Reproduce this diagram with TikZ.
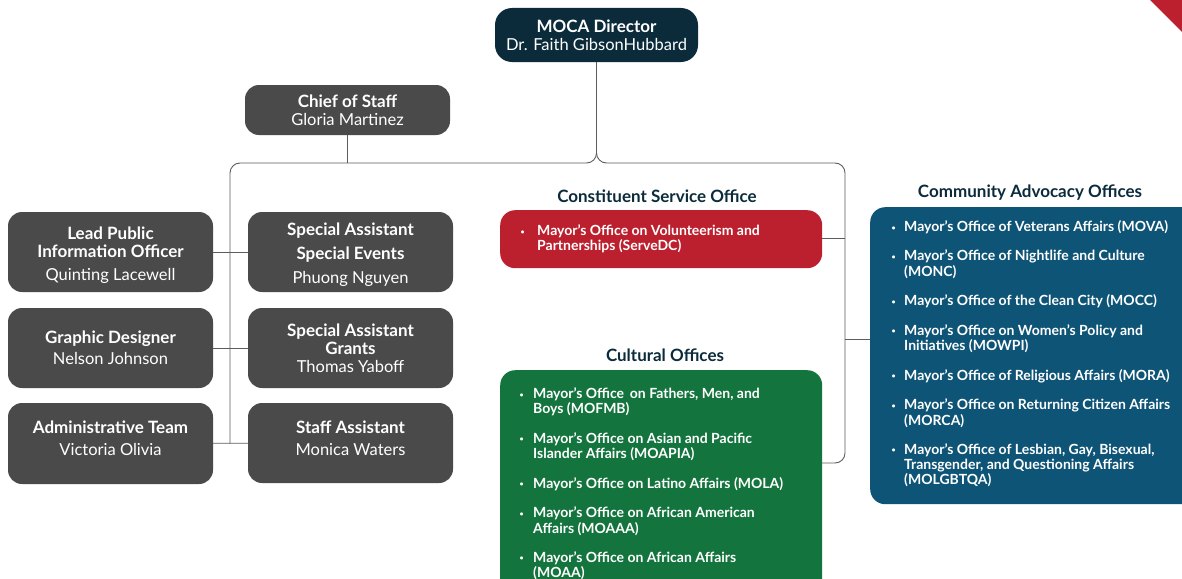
\documentclass[tikz,border=0pt]{standalone}
\usepackage{fontspec}
\setmainfont{Lato}
\usepackage{xcolor}
\definecolor{navy}{HTML}{0B2B3B}
\definecolor{slate}{HTML}{4A4A4A}
\definecolor{servred}{HTML}{BC1F2E}
\definecolor{cultgreen}{HTML}{13753D}
\definecolor{advblue}{HTML}{0E5476}
\definecolor{wirec}{HTML}{5C5C5C}
\newcommand{\bul}{\raisebox{1.5pt}{\scriptsize\textbullet}}
\newcommand{\rolefont}{\bfseries\fontsize{17}{18}\selectfont}
\newenvironment{officelist}[1]{\begin{tabular}{@{}p{#1}@{}l@{}}}{\end{tabular}}

\begin{document}
\begin{tikzpicture}[x=1pt,y=-1pt,
  staff/.style={fill=slate,text=white,rounded corners=14pt,minimum width=205pt,
    minimum height=80pt,align=center,inner sep=0pt,font=\fontsize{16.5}{18}\selectfont},
  head/.style={staff,fill=navy,rounded corners=17pt,minimum width=203pt,minimum height=54pt},
  panel/.style={anchor=north west,rounded corners=15pt,inner sep=0pt},
  listing/.style={anchor=north west,inner sep=0pt,text=white,font=\bfseries\fontsize{14}{15}\selectfont},
  grouptitle/.style={text=navy,font=\bfseries\fontsize{17}{18}\selectfont},
  wire/.style={draw=wirec,line width=0.9pt}]
  \useasboundingbox (0,0) rectangle (1182,578);
  \clip (0,0) rectangle (1182,578);
  \fill[servred] (1150,0) -- (1190,0) -- (1190,40) -- cycle;

  \node[head] (director) at (596.5,35) {{\rolefont MOCA Director}\\Dr. Faith GibsonHubbard};
  \node[staff,minimum height=50pt] (chief) at (347.5,110) {{\rolefont Chief of Staff}\\Gloria Martinez};

  \node[staff] (lpio) at (110.5,252) {\mbox{}\\[2pt]{\rolefont Lead Public}\\{\rolefont Information Officer}\\[5pt]Quinting Lacewell};
  \node[staff] (events) at (350.5,252) {\mbox{}\\[0pt]{\rolefont Special Assistant}\\[6pt]{\rolefont Special Events}\\[6pt]Phuong Nguyen};
  \node[staff] (designer) at (110.5,348) {{\rolefont Graphic Designer}\\[3pt]Nelson Johnson};
  \node[staff] (grants) at (350.5,348) {{\rolefont Special Assistant}\\{\rolefont Grants}\\Thomas Yaboff};
  \node[staff,minimum height=81pt] (admin) at (110.5,443.5) {{\rolefont Administrative Team}\\[4pt]Victoria Olivia\\[-8pt]\mbox{}};
  \node[staff] (assistant) at (350.5,443) {{\rolefont Staff Assistant}\\[4pt]Monica Waters\\[-8pt]\mbox{}};

  \node[grouptitle] (servetitle) at (657,196) {Constituent Service Office};
  \node[panel,fill=servred,minimum width=322pt,minimum height=58pt] (serve) at (500,210) {};
  \node[listing] (servelist) at (520.5,224.5) {\begin{officelist}{16.5pt}
    \bul & Mayor’s Office on Volunteerism and\\
         & Partnerships (ServeDC)
  \end{officelist}};

  \node[grouptitle] (culttitle) at (665,355) {Cultural Offices};
  \node[panel,fill=cultgreen,minimum width=322pt,minimum height=232pt] (cultural) at (500,370) {};
  \node[listing] (cultlist) at (519.5,387.5) {\begin{officelist}{13.5pt}
    \bul & Mayor’s Office\ \,on Fathers, Men, and\\ & Boys (MOFMB)\\[14pt]
    \bul & Mayor’s Office on Asian and Pacific\\ & Islander Affairs (MOAPIA)\\[14pt]
    \bul & Mayor’s Office on Latino Affairs (MOLA)\\[14pt]
    \bul & Mayor’s Office on African American\\ & Affairs (MOAAA)\\[14pt]
    \bul & Mayor’s Office on African Affairs\\ & (MOAA)
  \end{officelist}};

  \node[grouptitle] (advtitle) at (1030,193) {Community Advocacy Offices};
  \node[panel,fill=advblue,minimum width=330pt,minimum height=297pt] (advocacy) at (870,207) {};
  \node[listing] (advlist) at (891.5,220.5) {\begin{officelist}{12.5pt}
    \bul & Mayor’s Office of Veterans Affairs (MOVA)\\[14pt]
    \bul & Mayor’s Office of Nightlife and Culture\\ & (MONC)\\[14pt]
    \bul & Mayor’s Office of the Clean City (MOCC)\\[14pt]
    \bul & Mayor’s Office on Women’s Policy and\\ & Initiatives (MOWPI)\\[14pt]
    \bul & Mayor’s Office of Religious Affairs (MORA)\\[14pt]
    \bul & Mayor’s Office on Returning Citizen Affairs\\ & (MORCA)\\[14pt]
    \bul & Mayor’s Office of Lesbian, Gay, Bisexual,\\ & Transgender, and Questioning Affairs\\ & (MOLGBTQA)
  \end{officelist}};

  \coordinate (split) at (596.5,163);
  \coordinate (ltrunk) at (230,163);
  \coordinate (rtrunk) at (845,163);
  \coordinate (cultjoin) at (822,463);
  \coordinate (advjoin) at (870,339);
  \draw[wire,rounded corners=10pt] (director.south) -- (split) -- (ltrunk) -- (ltrunk |- admin);
  \draw[wire,rounded corners=10pt] (director.south) -- (split) -- (rtrunk) -- (rtrunk |- cultjoin) -- (cultjoin);
  \draw[wire] (chief.south) -- (chief.south |- split);
  \foreach \a/\b in {lpio/events, designer/grants, admin/assistant}
    {\draw[wire] (\a) -- (\b);}
  \draw[wire] (serve.east |- 0,238) -- (rtrunk |- 0,238);
  \draw[wire] (rtrunk |- advjoin) -- (advjoin);
\end{tikzpicture}
\end{document}
